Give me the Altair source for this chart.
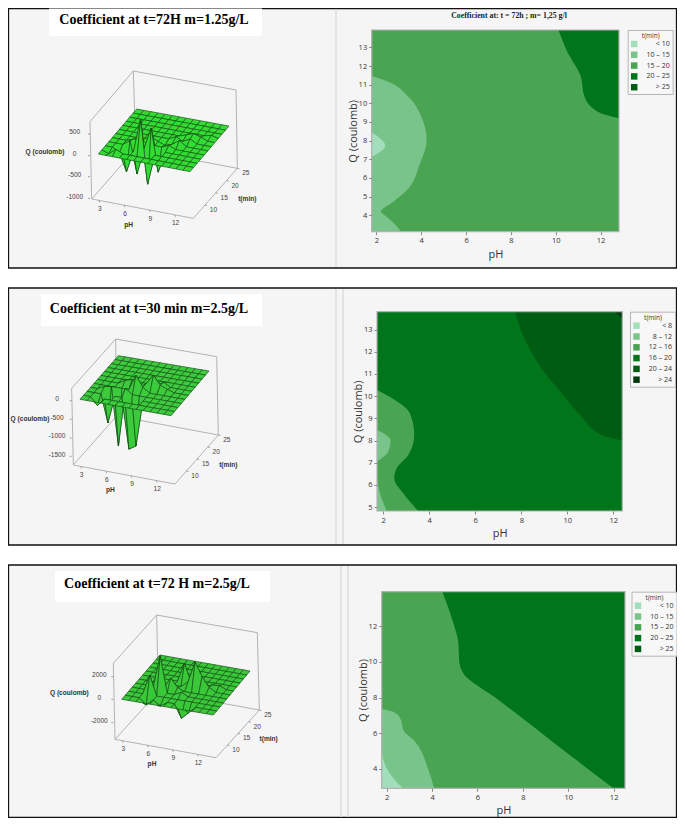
import altair as alt
import pandas as pd

OX, OY = 8, 8          # where the chart's origin falls on the page
W, H = 669, 810
SANS = "Liberation Sans"
SERIF = "Liberation Serif"
UI = "Open Sans"

# ---------- values ----------
bands_a = ["< 10", "10 – 15", "15 – 20", "20 – 25", "> 25"]
bands_b = ["< 8", "8 – 12", "12 – 16", "16 – 20", "20 – 24", "> 24"]
greens_a = ["#A2DEBB", "#79C48A", "#4AA553", "#00751A", "#005C12"]
greens_b = ["#A2DEBB", "#79C48A", "#4AA553", "#00751A", "#005C12", "#003A0C"]

# contour limits: (Q, pH limit)
r1_15 = [(3.12, 3.1), (3.66, 2.7), (3.97, 2.4), (4.2, 2.2), (4.73, 2.76), (5.27, 3.3), (6.8, 3.95),
         (8.04, 4.24), (9.3, 4.0), (10.45, 3.35), (11.16, 2.53), (11.46, 1.79)]
r1_10 = [(7.14, 1.79), (7.73, 2.39), (8.45, 1.79)]
r1_25 = [(9.2, 12.82), (9.55, 11.87), (10.36, 11.28), (11.5, 11.1), (12.7, 10.54), (13.93, 10.12)]

r2_16 = [(4.82, 3.52), (5.62, 2.87), (6.29, 2.48), (6.74, 2.58), (7.35, 3.09), (8.25, 3.35),
         (9.23, 3.16), (9.83, 2.51), (10.28, 1.73)]
r2_12a = [(7.05, 1.73), (7.5, 2.22), (8.02, 2.32), (8.28, 2.08), (8.47, 1.73)]
r2_12b = [(4.82, 2.15), (5.62, 1.86), (6.37, 1.73)]
r2_24 = [(8.0, 12.39), (8.25, 11.5), (9.07, 10.62), (10.13, 9.75), (11.26, 8.88), (12.53, 8.16), (13.81, 7.73)]
r2_top = [(13.51, 12.39), (13.81, 12.07)]

r3_25 = [(2.92, 11.99), (4.6, 10.25), (6.8, 8.02), (8.05, 6.72), (9.35, 5.38), (10.1, 5.19),
         (11.03, 5.16), (12.15, 4.94), (13.92, 4.45)]
r3_15 = [(2.92, 4.09), (3.94, 3.84), (5.53, 3.25), (6.18, 2.73), (6.74, 2.63), (7.2, 2.29), (7.36, 1.78)]
r3_10 = [(2.92, 2.71), (3.48, 2.29), (4.04, 2.0), (4.91, 1.78)]

# surface peaks: (pH index, t index, Q value)
peaks_1 = [(3, 2, -520), (4, 3, -640), (6, 2, -720), (7, 3, -500), (5, 2, 800), (6, 3, 515),
           (1, 1, -60), (2, 1, 80), (2, 2, -100), (3, 3, 120), (3, 4, 60), (4, 4, 100), (5, 5, 80),
           (8, 4, 70), (9, 5, 120), (10, 6, 90), (10, 7, 120), (11, 7, 70), (9, 7, 60), (8, 6, 80),
           (7, 5, -60), (12, 8, 40)]
peaks_2 = [(2, 1, -200), (3, 2, -750), (4, 3, -1450), (6, 2, -1360), (7, 2, -1240), (6, 4, 420),
           (8, 5, 380), (5, 5, 160), (3, 3, 120), (2, 3, 90), (4, 5, 110), (5, 3, 140), (7, 5, 120),
           (9, 5, 140), (9, 6, 110), (10, 5, 60), (7, 4, 130)]
peaks_3 = [(4, 3, 3200), (3, 2, 1750), (7, 5, 500), (6, 6, 1700), (8, 5, 2380), (5, 4, 1000), (9, 5, 1170),
           (7, 3, 300), (3, 3, 300), (6, 4, 250), (10, 5, 350), (11, 6, 250), (10, 6, 200),
           (8, 1, -1180), (3, 1, -530), (5, 1, -410), (9, 1, -590)]

ph_ticks = [3, 6, 9, 12]
t_ticks = [10, 15, 20, 25]
q_ticks_1 = [500, 0, -500, -1000]
q_ticks_2 = [0, -500, -1000, -1500]
q_ticks_3 = [2000, 0, -2000]
NI, NJ = 13, 11   # grid cells

# ---------- layout ----------
panels3d = [
    dict(oy=0, surf=[(295, 462), (570, 515), (687, 378), (410, 327)], zs=126 / 1000, green="#32DC32",
         tl=(270, 365), tb=(400, 213), tr=(708, 270), fl=(275, 597), ff=(580, 655), fr=(712, 505),
         q=q_ticks_1, qy=[402, 467, 530, 595], qx=224, qlab=(135, 457),
         phlab=(386, 675), tlab=(742, 597)),
    dict(oy=285, surf=[(240, 343), (513, 392), (627, 258), (355, 212)], zs=111 / 1000, green="#3CCB3C",
         tl=(215, 310), tb=(347, 162), tr=(650, 215), fl=(220, 540), ff=(525, 597), fr=(655, 450),
         q=q_ticks_2, qy=[347, 403, 459, 514], qx=171, qlab=(90, 401),
         phlab=(331, 615), tlab=(685, 539)),
    dict(oy=560, surf=[(365, 418), (640, 465), (750, 333), (480, 285)], zs=68 / 2000, green="#38C838",
         tl=(340, 310), tb=(470, 165), tr=(772, 218), fl=(345, 538), ff=(648, 593), fr=(778, 450),
         q=q_ticks_3, qy=[350, 418, 488], qx=298, qlab=(208, 400),
         phlab=(456, 613), tlab=(806, 538)),
]
for p, pk in zip(panels3d, [peaks_1, peaks_2, peaks_3]):
    p["peaks"] = pk


def px(p, pt):
    return (pt[0] / 3 - OX, pt[1] / 3 + p["oy"] - OY)


def mix(a, b, f):
    return (a[0] + (b[0] - a[0]) * f, a[1] + (b[1] - a[1]) * f)


def feature(kind, coords):
    return {"type": "Feature", "properties": {}, "geometry": {"type": kind, "coordinates": coords}}


identity = dict(type="identity", scale=1, translate=[0, 0])
xpx = alt.X("x:Q", scale=alt.Scale(domain=[0, W], range=[0, W], nice=False, zero=False), axis=None)
ypx = alt.Y("y:Q", scale=alt.Scale(domain=[0, H], range=[0, H], nice=False, zero=False), axis=None)
x2px, y2px = alt.X2("x2:Q"), alt.Y2("y2:Q")


def geo_lines(features, color, width):
    return (alt.Chart(alt.Data(values=features))
            .mark_geoshape(filled=False, stroke=color, strokeWidth=width)
            .project(**identity))


def texts(rows, size, font=SANS, weight="normal", color="#444444", align="center"):
    df = pd.DataFrame(rows, columns=["x", "y", "t"])
    return alt.Chart(df).mark_text(font=font, fontSize=size, fontWeight=weight, color=color,
                                   align=align, baseline="middle").encode(x=xpx, y=ypx, text="t:N")


def rect_rows(rows):
    out = []
    for a, b, c, d, f, s, w in rows:
        out.append((max(a - OX, 0.5), min(b - OX, W - 0.5), max(c - OY, 0.5), min(d - OY, H - 0.5), f, s, w))
    return pd.DataFrame(out, columns=["x", "x2", "y", "y2", "f", "s", "w"])


# ---------- frames (page pixels) ----------
frames = rect_rows([
    (0, 680, 1, 268, "#F5F5F5", "#111111", 1.3),
    (0, 680, 288, 545, "#F5F5F5", "#111111", 1.3),
    (6, 682, 565, 825, "#F5F5F5", "#111111", 1.3),
    (336, 336, 9, 267, "none", "#DDDDDD", 1),
    (336, 336, 289, 544, "none", "#DDDDDD", 1),
    (343, 343, 289, 544, "none", "#DDDDDD", 1),
    (341, 341, 566, 817, "none", "#DDDDDD", 1),
    (348, 348, 566, 817, "none", "#DDDDDD", 1),
    (49, 262, 5, 36, "#FFFFFF", "none", 0),
    (41, 262, 294, 326, "#FFFFFF", "none", 0),
    (55, 270, 571, 602, "#FFFFFF", "none", 0),
])
rect_enc = dict(x=xpx, x2=x2px, y=ypx, y2=y2px,
                fill=alt.Fill("f:N", scale=None), stroke=alt.Stroke("s:N", scale=None),
                strokeWidth=alt.StrokeWidth("w:Q", scale=None))
layers = [alt.Chart(frames).mark_rect().encode(**rect_enc)]

# ---------- 3D panels ----------
for p in panels3d:
    tl, tb, tr, fl, ff, fr = [px(p, p[k]) for k in ("tl", "tb", "tr", "fl", "ff", "fr")]
    fb = (fl[0] + fr[0] - ff[0], fl[1] + fr[1] - ff[1])
    box = [[tl, fl], [tb, fb], [tr, fr], [tl, tb], [tb, tr], [fl, ff], [ff, fr], [fl, fb], [fb, fr]]
    layers.append(geo_lines([feature("LineString", [list(a), list(b)]) for a, b in box], "#ABABAB", 0.9))

    # surface: painter's order, far t rows first
    L, F, R, B = [px(p, c) for c in p["surf"]]
    zs = p["zs"] / 3
    z = {(i, j): v for i, j, v in p["peaks"]}

    def proj(i, j):
        a = mix(L, F, i / NI)
        b = mix(B, R, i / NI)
        q = mix(a, b, j / NJ)
        return [q[0], q[1] - z.get((i, j), 0) * zs]

    quads = []
    for j in range(NJ - 1, -1, -1):
        for i in range(NI):
            ring = [proj(i, j), proj(i + 1, j), proj(i + 1, j + 1), proj(i, j + 1), proj(i, j)]
            quads.append(feature("Polygon", [ring]))
    layers.append(alt.Chart(alt.Data(values=quads))
                  .mark_geoshape(fill=p["green"], stroke="#124A12", strokeWidth=0.65)
                  .project(**identity))

    # axes of the cube
    ticks, small = [], []
    for v in ph_ticks:
        a = mix(fl, ff, (v - 2.1) / 12.1)
        ticks.append(feature("LineString", [list(a), [a[0] + 0.5, a[1] + 2]]))
        small.append((a[0] + 0.7, a[1] + 8.5, str(v)))
    for v in t_ticks:
        a = mix(ff, fr, (v - 4.6) / 20.4)
        ticks.append(feature("LineString", [list(a), [a[0] + 2, a[1] + 0.5]]))
        small.append((a[0] + 8.5, a[1] + 5, str(v)))
    for v, yy in zip(p["q"], p["qy"]):
        a = px(p, (p["tl"][0], yy))
        ticks.append(feature("LineString", [list(a), [a[0] - 2, a[1]]]))
        b = px(p, (p["qx"], yy - 5))
        small.append((b[0], b[1], str(v)))
    layers.append(geo_lines(ticks, "#8A8A8A", 0.8))
    layers.append(texts(small, 6.6))
    bold = [px(p, p["qlab"]) + ("Q (coulomb)",), px(p, p["phlab"]) + ("pH",), px(p, p["tlab"]) + ("t(min)",)]
    layers.append(texts(bold, 6.6, weight="bold", color="#333333"))

# ---------- titles ----------
layers.append(texts([(154 - OX, 20 - OY, "Coefficient at t=72H  m=1.25g/L"),
                     (149 - OX, 309 - OY, "Coefficient at t=30 min m=2.5g/L"),
                     (157 - OX, 584 - OY, "Coefficient at t=72 H m=2.5g/L")],
                    14, font=SERIF, weight="bold", color="#000000"))
layers.append(texts([(509 - OX, 16 - OY, "Coefficient at:  t = 72h  ; m= 1,25 g/l")],
                    7.8, font=SERIF, weight="bold", color="#222222"))


# ---------- contour panels ----------
def band_rows(band, part, limits, side):
    """side: first entry fills from the low pH edge, second to the high pH edge."""
    rows = []
    for q, ph in limits:
        rows.append(dict(band=band, part=part, q=q, a=side[0] if side[0] is not None else ph,
                         b=side[1] if side[1] is not None else ph))
    return rows


def contour(rows, names, colors, xd, xr, yd, yr, xt, yt, leg_xy):
    xs = alt.Scale(domain=xd, range=[xr[0] - OX, xr[1] - OX], nice=False, zero=False)
    ys = alt.Scale(domain=yd, range=[yr[0] - OY, yr[1] - OY], nice=False, zero=False)
    common = dict(domain=False, grid=False, tickColor="#8A8A8A", tickSize=3, labelColor="#333333",
                  labelFontSize=7.5, labelFont=UI, titleColor="#333333", titleFontSize=11,
                  titleFont=UI, titleFontWeight="normal", zindex=1, labelPadding=2)
    return (alt.Chart(pd.DataFrame(rows))
            .mark_area(orient="horizontal", interpolate="monotone", strokeWidth=0)
            .encode(
                y=alt.Y("q:Q", scale=ys, title="Q (coulomb)",
                        axis=alt.Axis(orient="left", values=yt, offset=-(xr[0] - OX), titlePadding=0, **common)),
                x=alt.X("a:Q", scale=xs, title="pH",
                        axis=alt.Axis(orient="bottom", values=xt, offset=-(H - (yr[0] - OY)), titlePadding=4, **common)),
                x2="b:Q",
                detail="part:N",
                color=alt.Color("band:N", scale=alt.Scale(domain=names, range=colors),
                                legend=alt.Legend(orient="none", legendX=leg_xy[0] - OX, legendY=leg_xy[1] - OY,
                                                  title="t(min)", titleFontSize=6.5, titleFont=UI,
                                                  titleFontWeight="normal", titleColor="#333333",
                                                  titleAnchor="middle", titlePadding=1,
                                                  labelFontSize=7, labelFont=UI, labelColor="#333333",
                                                  labelAlign="right", labelOffset=32,
                                                  symbolType="square", symbolSize=42, symbolStrokeWidth=0,
                                                  rowPadding=2.8, padding=3,
                                                  fillColor="#F7F7F7", strokeColor="#B5B5B5"))))


x1, x2_1 = 1.79, 12.82
rows1 = (band_rows("15 – 20", "b", [(3.12, 0), (13.93, 0)], (x1, x2_1))
         + band_rows("10 – 15", "a", r1_15, (x1, None))
         + band_rows("< 10", "a", r1_10, (x1, None))
         + band_rows("20 – 25", "a", r1_25, (None, x2_1)))
layers.append(contour(rows1, bands_a, greens_a, [x1, x2_1], [371.7, 619], [3.12, 13.93], [231.7, 30],
                      [2, 4, 6, 8, 10, 12], [4, 5, 6, 7, 8, 9, 10, 11, 12, 13], (627.7, 30)))

x1, x2_2 = 1.73, 12.39
rows2 = (band_rows("16 – 20", "b", [(4.82, 0), (13.81, 0)], (x1, x2_2))
         + band_rows("12 – 16", "a", r2_16, (x1, None))
         + band_rows("8 – 12", "a", r2_12a, (x1, None))
         + band_rows("8 – 12", "c", r2_12b, (x1, None))
         + band_rows("20 – 24", "a", r2_24, (None, x2_2))
         + band_rows("> 24", "a", r2_top, (None, x2_2)))
layers.append(contour(rows2, bands_b, greens_b, [x1, x2_2], [377, 622.3], [4.82, 13.81], [511, 311.7],
                      [2, 4, 6, 8, 10, 12], [5, 6, 7, 8, 9, 10, 11, 12, 13], (630, 311.7)))

x1, x2_3 = 1.78, 12.5
rows3 = (band_rows("15 – 20", "b", [(2.92, 0), (13.92, 0)], (x1, x2_3))
         + band_rows("10 – 15", "a", r3_15, (x1, None))
         + band_rows("< 10", "a", r3_10, (x1, None))
         + band_rows("20 – 25", "a", r3_25, (None, x2_3)))
layers.append(contour(rows3, bands_a, greens_a, [x1, x2_3], [381.7, 625], [2.92, 13.92], [788.3, 591.7],
                      [2, 4, 6, 8, 10, 12], [4, 6, 8, 10, 12], (631.5, 591.7)))

# plot outlines
outl = rect_rows([(371.7, 619, 30, 231.7, "none", "#B2B2B2", 1.2),
                  (377, 622.3, 311.7, 511, "none", "#B2B2B2", 1.2),
                  (381.7, 625, 591.7, 788.3, "none", "#B2B2B2", 1.2)])
layers.append(alt.Chart(outl).mark_rect().encode(**rect_enc))

chart = (
    alt.layer(*layers)
    .resolve_scale(x="independent", y="independent", color="independent")
    .resolve_axis(x="independent", y="independent")
    .resolve_legend(color="independent")
    .properties(width=W, height=H, padding=0, autosize="none", background="#FFFFFF")
    .configure_view(stroke=None)
)
chart.save("out.html", embed_options={"renderer": "svg", "actions": False})
